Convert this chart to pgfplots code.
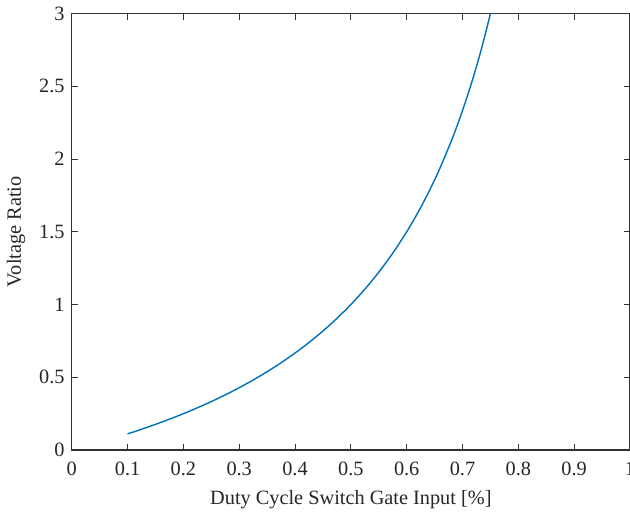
\documentclass[border=0pt]{standalone}
\usepackage{fontspec}
\setmainfont{Liberation Serif}
\usepackage{pgfplots}
\pgfplotsset{compat=1.18}
\definecolor{mblue}{RGB}{0,114,189}
\begin{document}
\begin{tikzpicture}[trim axis right]
\begin{axis}[
  scale only axis,
  width=275pt, height=215pt,
  xmin=0, xmax=1, ymin=0, ymax=3,
  xtick={0,0.1,...,1.0001}, ytick={0,0.5,...,3},
  xticklabels={0,0.1,0.2,0.3,0.4,0.5,0.6,0.7,0.8,0.9,1},
  yticklabels={0,0.5,1,1.5,2,2.5,3},
  tick align=inside,
  major tick length=3pt,
  tick style={black!80, line width=0.5pt},
  axis line style={black!80, line width=0.6pt},
  ticklabel style={font=\fontsize{10}{12}\selectfont, text=black!85},
  xticklabel style={yshift=-2.5pt},
  label style={font=\fontsize{10}{12}\selectfont, text=black!85},
  xlabel={Duty Cycle Switch Gate Input [\%]},
  ylabel={Voltage Ratio},
  /pgf/number format/assume math mode=true,
]
\addplot[mblue, line width=0.7pt, smooth] coordinates {
(0.100,0.1111)(0.125,0.1429)(0.150,0.1765)(0.175,0.2121)(0.200,0.2500)
(0.225,0.2903)(0.250,0.3333)(0.275,0.3793)(0.300,0.4286)(0.325,0.4815)
(0.350,0.5385)(0.375,0.6000)(0.400,0.6667)(0.425,0.7391)(0.450,0.8182)
(0.475,0.9048)(0.500,1.0000)(0.525,1.1053)(0.550,1.2222)(0.575,1.3529)
(0.600,1.5000)(0.620,1.6316)(0.640,1.7778)(0.660,1.9412)(0.680,2.1250)
(0.690,2.2258)(0.700,2.3333)(0.710,2.4483)(0.720,2.5714)(0.730,2.7037)
(0.740,2.8462)(0.750,3.0000)
};
\end{axis}
\end{tikzpicture}
\end{document}
